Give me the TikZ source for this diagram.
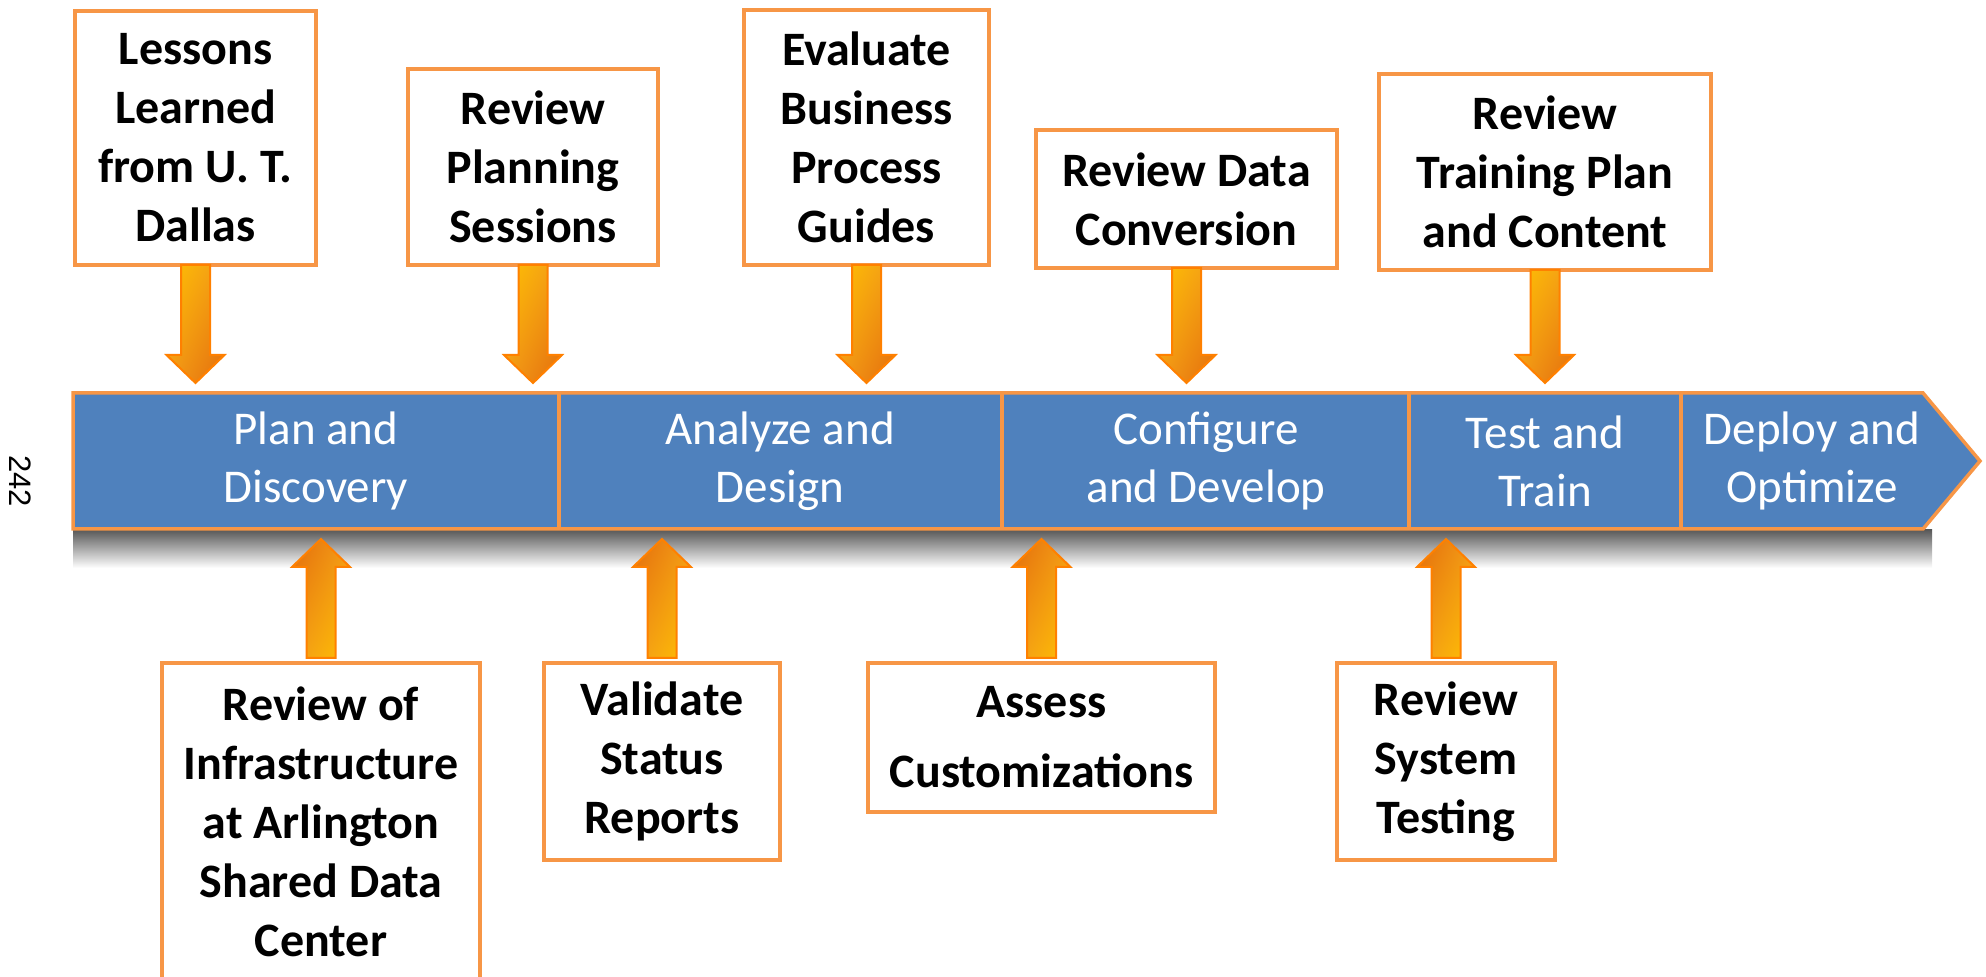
\documentclass[tikz,border=0pt]{standalone}
\usepackage{fontspec}
\setmainfont{Carlito}
\newfontfamily\numfont{Liberation Sans}
\usetikzlibrary{calc,shadings}
\definecolor{boxorange}{HTML}{F79646}
\definecolor{bandblue}{HTML}{4F81BD}
\definecolor{ayellow}{HTML}{FFC000}
\definecolor{aorange}{HTML}{E46C0A}
\definecolor{amid}{HTML}{F29B1A}
\definecolor{aline}{HTML}{FF8000}

\newcommand\downarr[1]{%
\shadedraw[arrowshape, upper left=ayellow, upper right=amid, lower left=amid, lower right=aorange]
 ($(#1.south)+(-14.5,0)$) -- ($(#1.south |- dhead)+(-14.5,0)$) -- ($(#1.south |- dhead)+(-29,0)$) -- (#1.south |- dtip) -- ($(#1.south |- dhead)+(29,0)$) -- ($(#1.south |- dhead)+(14.5,0)$) -- ($(#1.south)+(14.5,0)$) -- cycle;}
\newcommand\uparr[1]{%
\shadedraw[arrowshape, upper left=aorange, upper right=amid, lower left=amid, lower right=ayellow]
 ($(#1.north)+(-14.5,-5)$) -- ($(#1.north |- uhead)+(-14.5,0)$) -- ($(#1.north |- uhead)+(-29,0)$) -- (#1.north |- utip) -- ($(#1.north |- uhead)+(29,0)$) -- ($(#1.north |- uhead)+(14.5,0)$) -- ($(#1.north)+(14.5,-5)$) -- cycle;}

\begin{document}
\begin{tikzpicture}[x=0.5pt,y=-0.5pt,
 box/.style={draw=boxorange, line width=1.75pt, fill=white, inner sep=0pt, outer sep=0pt, align=center, font=\bfseries\fontsize{24}{29.5}\selectfont},
 phase/.style={text=white, align=center, font=\fontsize{23.5}{29}\selectfont},
 arrowshape/.style={draw=aline, line width=1pt},
 bandline/.style={draw=boxorange, line width=1.75pt},
]
\useasboundingbox (0,0) rectangle (1986,977);

% reflection shadow under the band
\shade[top color=black!65, bottom color=white] (73,530) rectangle (1932,568);

% band
\draw[bandline, fill=bandblue, line join=miter] (73,393) -- (1923,393) -- (1980,461) -- (1923,529) -- (73,529) -- cycle;
\foreach \sx in {559,1002,1409,1681} \draw[bandline] (\sx,393) -- (\sx,529);

\node[phase] (p1) at (316,461) {Plan and\\Discovery};
\node[phase] (p2) at (780,461) {Analyze and\\Design};
\node[phase] (p3) at (1206,461) {Configure\\and Develop};
\node[phase] (p4) at (1545,461) {Test and\\Train};
\node[phase] (p5) at (1812,461) {Deploy and\\Optimize};

\node[rotate=-90, font=\numfont\fontsize{15.5}{18}\selectfont] (pg) at (20,481) {242};

% top boxes
\node[box, minimum width=120.5pt, minimum height=127pt] (b1) at (195.5,138) {Lessons\\Learned\\from U. T.\\Dallas};
\node[box, minimum width=125pt, minimum height=98pt] (b2) at (533,167) {Review\\Planning\\Sessions};
\node[box, minimum width=122.5pt, minimum height=127.5pt] (b3) at (866.5,137.5) {Evaluate\\Business\\Process\\Guides};
\node[box, minimum width=150.5pt, minimum height=69pt] (b4) at (1186.5,199) {Review Data\\Conversion};
\node[box, minimum width=166pt, minimum height=98pt] (b5) at (1545,172) {Review\\Training Plan\\and Content};

% bottom boxes
\node[box, minimum width=159pt, minimum height=159pt] (c1) at (321,822) {Review of\\Infrastructure\\at Arlington\\Shared Data\\Center};
\node[box, minimum width=118pt, minimum height=98.5pt] (c2) at (662,761.5) {Validate\\Status\\Reports};
\node[box, minimum width=173.5pt, minimum height=74.5pt] (c3) at (1041.5,737.5) {Assess\\[5.5pt]Customizations};
\node[box, minimum width=109pt, minimum height=98.5pt] (c4) at (1446,761.5) {Review\\System\\Testing};

\coordinate (dtip) at (0,383);
\coordinate (dhead) at (0,355);
\coordinate (utip) at (0,539);
\coordinate (uhead) at (0,567);

\downarr{b1}
\downarr{b2}
\downarr{b3}
\downarr{b4}
\downarr{b5}
\uparr{c1}
\uparr{c2}
\uparr{c3}
\uparr{c4}
\end{tikzpicture}
\end{document}
